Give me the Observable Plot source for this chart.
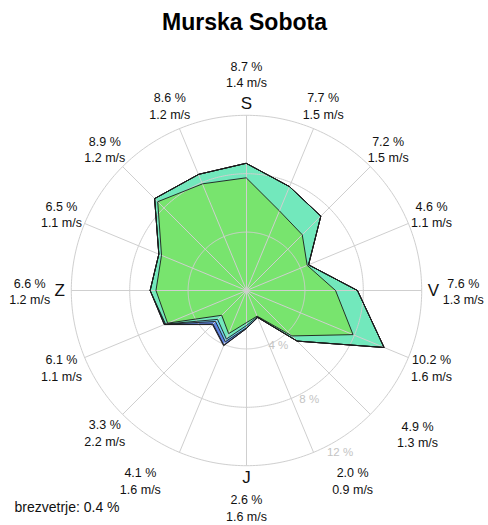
<!DOCTYPE html>
<html><head><meta charset="utf-8">
<script src="https://cdn.jsdelivr.net/npm/d3@7"></script>
<script src="https://cdn.jsdelivr.net/npm/@observablehq/plot@0.6"></script>
<style>
body{margin:0;background:#fff;}
#chart svg{display:block;}
</style>
</head><body><div id="chart"></div>
<script>
// ---- data ----
const title = "Murska Sobota";
const calmNote = "brezvetrje: 0.4 %";
const directions = ["S","SSV","SV","VSV","V","VJV","JV","JJV","J","JJZ","JZ","ZJZ","Z","ZSZ","SZ","SSZ"];
const cardinalLetters = ["S","V","J","Z"];
const totalPct  = [8.7, 7.7, 7.2, 4.6, 7.6, 10.2, 4.9, 2.0, 2.6, 4.1, 3.3, 6.1, 6.6, 6.5, 8.9, 8.6];
const meanSpeed = [1.4, 1.5, 1.5, 1.1, 1.3, 1.6, 1.3, 0.9, 1.6, 1.6, 2.2, 1.1, 1.2, 1.1, 1.2, 1.2];
// frequency (%) per speed class, 16 directions clockwise from north
const class1 = [7.7, 5.9, 5.4, 4.5, 6.1, 7.9, 4.4, 1.9, 2.2, 3.2, 2.4, 5.85, 6.2, 6.3, 8.6, 7.9];
const class2 = [1.0, 1.8, 1.8, 0.1, 1.5, 2.3, 0.5, 0.05, 0.2, 0.4, 0.4, 0.15, 0.4, 0.2, 0.3, 0.7];
const class3 = [0, 0, 0, 0, 0, 0, 0, 0.05, 0.15, 0.2, 0.2, 0.05, 0, 0, 0, 0];
const class4 = [0, 0, 0, 0, 0, 0, 0, 0, 0.05, 0.25, 0.25, 0.05, 0, 0, 0, 0];
const class5 = [0, 0, 0, 0, 0, 0, 0, 0, 0, 0.05, 0.05, 0, 0, 0, 0, 0];
const ringValues = [4, 8, 12];

// ---- styles / layout ----
const classColors = ["#78e46e", "#72e8bc", "#6fd0ef", "#5f86e3", "#4a56c8"];
const font = "'Liberation Sans', Arial, sans-serif";
const W = 488, H = 525, cx = 246, cy = 290, pxPer = 14.6;

const rad = d => d * Math.PI / 180;
const pt = (bearing, r) => ({x: r * Math.sin(rad(bearing)), y: r * Math.cos(rad(bearing))});
const step = 360 / directions.length;

// cumulative layers
const layers = [class1, class2, class3, class4, class5];
const cum = [];
layers.forEach((arr, k) => cum.push(arr.map((v, i) => v + (k ? cum[k - 1][i] : 0))));

const polyRows = cum.map((c, k) => directions.map((d, i) => ({layer: k, ...pt(i * step, c[i])})));

const ringRows = ringValues.flatMap(r => d3.range(0, 360, 1).map(a => ({r, ...pt(a, r)})));
const spokeRows = directions.map((d, i) => ({...pt(i * step, ringValues[ringValues.length - 1])}));

// label placement (layout only)
function labelPlace(i) {
  if (i % 4 === 0) return [i * step, 14.85];
  if (i === 6) return [129.9, 15.27];
  if (i === 7) return [150.8, 14.9];
  if (i === 9) return [209.2, 14.9];
  return [i * step, 13.72];
}
const valueRows = directions.map((d, i) => {
  const [b, r] = labelPlace(i);
  return {...pt(b, r), text: `${totalPct[i].toFixed(1)} %\n${meanSpeed[i].toFixed(1)} m/s`};
});
const letterRows = cardinalLetters.map((t, j) => ({...pt(j * 90, 12.8), text: t}));
const ringLabelRows = ringValues.map(r => ({...pt(150, r * 1.055 + 0.15), text: `${r} %`}));

const marks = [];
for (let k = layers.length - 1; k >= 0; k--) {
  marks.push(Plot.line(polyRows[k], {x: "x", y: "y", curve: "linear-closed", fill: classColors[k], stroke: "none"}));
}
marks.push(
  Plot.line(ringRows, {x: "x", y: "y", z: "r", curve: "linear-closed", stroke: "#cfcfcf", strokeWidth: 1}),
  Plot.link(spokeRows, {x1: () => 0, y1: () => 0, x2: "x", y2: "y", stroke: "#cfcfcf", strokeWidth: 1})
);
for (let k = layers.length - 1; k >= 0; k--) {
  marks.push(Plot.line(polyRows[k], {x: "x", y: "y", curve: "linear-closed", fill: "none", stroke: "#1c1c1c", strokeWidth: 0.9}));
}
marks.push(
  Plot.text(ringLabelRows, {x: "x", y: "y", text: "text", fill: "#c4c4c4", fontSize: 11.5}),
  Plot.text(letterRows, {x: "x", y: "y", text: "text", fill: "#111", fontSize: 17}),
  Plot.text(valueRows, {x: "x", y: "y", text: "text", fill: "#111", fontSize: 12.5, lineHeight: 1.32}),
  Plot.text([title], {frameAnchor: "top", lineAnchor: "middle", dy: 22, fontSize: 23, fontWeight: "bold", fill: "#000"}),
  Plot.text([calmNote], {frameAnchor: "bottom-left", lineAnchor: "middle", dx: 14, dy: -18, textAnchor: "start", fontSize: 14, fill: "#111"})
);

const chart = Plot.plot({
  width: W, height: H,
  margin: 0,
  style: {fontFamily: font, background: "#fff"},
  x: {domain: [-cx / pxPer, (W - cx) / pxPer], axis: null},
  y: {domain: [-(H - cy) / pxPer, cy / pxPer], axis: null},
  marks
});
document.getElementById("chart").append(chart);
</script>
</body></html>
